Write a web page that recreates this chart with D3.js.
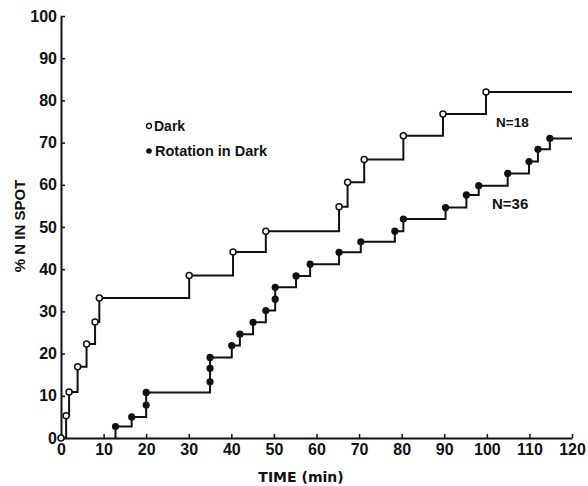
<!DOCTYPE html>
<html>
<head>
<meta charset="utf-8">
<script src="https://cdn.jsdelivr.net/npm/d3@7"></script>
<style>
  body { margin: 0; background: #fff; }
  text { font-family: "Liberation Sans", Arial, sans-serif; font-weight: bold; fill: #111; }
</style>
</head>
<body>
<div id="chart"></div>
<script>
// Size of the picture
let width = 588;
let height = 486;

// Dark: time (min), % N in spot
let darkTime = [0, 1.2, 1.9, 3.9, 6, 8, 9, 30.1, 40.4, 48.1, 65.3, 67.3, 71.2, 80.4, 89.7, 99.8];
let darkPct  = [0, 5.3, 10.9, 16.9, 22.3, 27.5, 33.2, 38.5, 44.1, 49, 54.8, 60.6, 66, 71.6, 76.8, 82];

// Rotation in dark
let rotTime = [12.8, 16.6, 20, 20, 35, 35, 35, 40.1, 42, 45.1, 48.1, 50.3, 50.3, 55.2, 58.5, 65.3,
               70.4, 78.4, 80.4, 90.3, 95.2, 98.1, 104.9, 109.9, 112, 114.8];
let rotPct  = [2.7, 5.0, 7.8, 10.8, 13.3, 16.5, 19.1, 21.9, 24.6, 27.4, 30.2, 32.9, 35.7, 38.4, 41.2, 44,
               46.5, 49, 51.9, 54.6, 57.6, 59.8, 62.7, 65.5, 68.4, 71];

let xTicks = [0, 10, 20, 30, 40, 50, 60, 70, 80, 90, 100, 110, 120];
let yTicks = [0, 10, 20, 30, 40, 50, 60, 70, 80, 90, 100];
let endTime = 120;

let x = d3.scaleLinear().domain([0, 120]).range([61, 572]);
let y = d3.scaleLinear().domain([0, 100]).range([438, 16]);

let svg = d3.select('#chart')
.append('svg')
.attr('width', width)
.attr('height', height);

// axes, ticks point inward
let yAxis = svg.append('g')
.attr('transform', 'translate(' + x(0) + ',0)')
.call(d3.axisLeft(y).tickValues(yTicks).tickSizeInner(-4).tickSizeOuter(0).tickPadding(4));

let xAxis = svg.append('g')
.attr('transform', 'translate(0,' + y(0) + ')')
.call(d3.axisBottom(x).tickValues(xTicks).tickSizeInner(-4).tickSizeOuter(0).tickPadding(6));

svg.selectAll('.domain').attr('stroke', '#111').attr('stroke-width', 2);
svg.selectAll('.tick line').attr('stroke', '#111').attr('stroke-width', 1.5);
svg.selectAll('.tick text').style('font-size', '16px').attr('fill', '#111');

// axis titles
svg.append('text')
.attr('x', 301)
.attr('y', 482)
.attr('text-anchor', 'middle')
.style('font-family', '"DejaVu Sans", sans-serif')
.style('font-size', '14px')
.text('TIME (min)');

svg.append('text')
.attr('transform', 'translate(25,226) rotate(-90)')
.attr('text-anchor', 'middle')
.style('font-size', '15px')
.text('% N IN SPOT');

// step lines
let line = d3.line()
.x(function(d){ return x(d[0]); })
.y(function(d){ return y(d[1]); })
.curve(d3.curveStepAfter);

let darkPts = darkTime.map(function(t, i){ return [t, darkPct[i]]; });
let rotPts = rotTime.map(function(t, i){ return [t, rotPct[i]]; });

let darkPath = darkPts.concat([[endTime, darkPct[darkPct.length - 1]]]);
let rotPath = [[rotTime[0], 0]].concat(rotPts).concat([[endTime, rotPct[rotPct.length - 1]]]);

svg.append('path')
.attr('d', line(darkPath))
.attr('fill', 'none')
.attr('stroke', '#111')
.attr('stroke-width', 2);

svg.append('path')
.attr('d', line(rotPath))
.attr('fill', 'none')
.attr('stroke', '#111')
.attr('stroke-width', 2);

svg.append('g').selectAll('circle')
.data(darkPts)
.enter()
.append('circle')
.attr('cx', function(d){ return x(d[0]); })
.attr('cy', function(d){ return y(d[1]); })
.attr('r', 3)
.attr('fill', '#fff')
.attr('stroke', '#111')
.attr('stroke-width', 1.5);

svg.append('g').selectAll('circle')
.data(rotPts)
.enter()
.append('circle')
.attr('cx', function(d){ return x(d[0]); })
.attr('cy', function(d){ return y(d[1]); })
.attr('r', 3.6)
.attr('fill', '#111');

// legend
svg.append('circle').attr('cx', 149).attr('cy', 126).attr('r', 2.5)
.attr('fill', '#fff').attr('stroke', '#111').attr('stroke-width', 1.3);
svg.append('text').attr('x', 154).attr('y', 131).style('font-size', '14px').text('Dark');

svg.append('circle').attr('cx', 149).attr('cy', 151).attr('r', 2.8).attr('fill', '#111');
svg.append('text').attr('x', 155).attr('y', 156).style('font-size', '14.5px').text('Rotation in Dark');

// N labels
svg.append('text').attr('x', 496).attr('y', 127).style('font-size', '13.5px').text('N=18');
svg.append('text').attr('x', 492).attr('y', 209).style('font-size', '15px').text('N=36');
</script>
</body>
</html>
